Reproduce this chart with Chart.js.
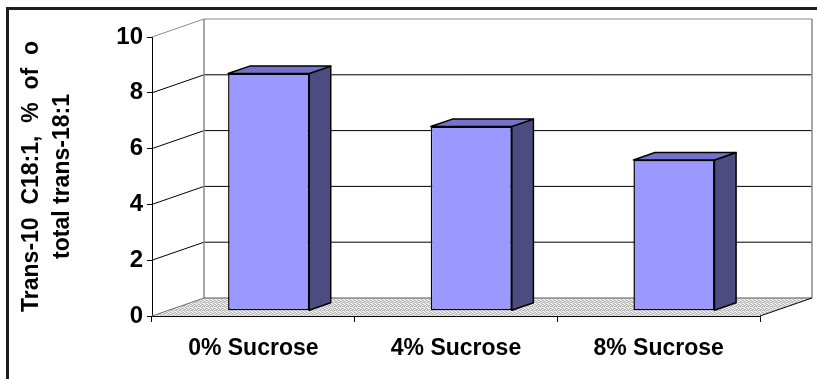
<!DOCTYPE html>
<html>
<head>
<meta charset="utf-8">
<script src="https://cdn.jsdelivr.net/npm/chart.js@4/dist/chart.umd.min.js"></script>
<style>
  html, body { margin: 0; padding: 0; background: #fff; overflow: hidden; }
  canvas { display: block; }
</style>
</head>
<body>
<canvas id="chart" width="817" height="379"></canvas>
<script>
// Data
const categories = ['0% Sucrose', '4% Sucrose', '8% Sucrose'];
const trans10Values = [8.5, 6.6, 5.4];
const yTicks = [0, 2, 4, 6, 8, 10];
const yTitleLines = ['Trans-10  C18:1,  %  of  o', 'total trans-18:1'];

// Oblique projection of the 3-D plot box
const DEPTH = { dx: 52, dy: -18 };
const BAR_FRONT = 0.294;   // depth fraction where each column's front face sits
const BAR_DEPTH = 0.415;   // depth fraction occupied by each column

const FONT = '"Liberation Sans", Arial, sans-serif';
const FRONT_COLOR = '#9999ff';
const TOP_COLOR = '#7373cc';
const SIDE_COLOR = '#4c4c80';

function floorPattern(ctx) {
  const c = document.createElement('canvas');
  c.width = 4; c.height = 4;
  const g = c.getContext('2d');
  g.fillStyle = '#b8b8b8';
  g.fillRect(0, 0, 4, 4);
  g.fillStyle = '#ffffff';
  [[0, 0], [2, 1], [1, 2], [3, 3]].forEach(([x, y]) => g.fillRect(x, y, 1, 1));
  g.fillStyle = '#e0e0e0';
  [[1, 0], [3, 1], [0, 3], [2, 3]].forEach(([x, y]) => g.fillRect(x, y, 1, 1));
  return ctx.createPattern(c, 'repeat');
}

const box3d = {
  id: 'box3d',
  beforeDraw(chart) {
    const ctx = chart.ctx;
    ctx.save();
    ctx.fillStyle = '#ffffff';
    ctx.fillRect(0, 0, chart.width, chart.height);
    // outer chart frame
    ctx.strokeStyle = '#1e1e1e';
    ctx.lineWidth = 3;
    ctx.strokeRect(7.5, 8.5, 1000, 600);
    ctx.restore();
  },
  beforeDatasetsDraw(chart) {
    const { ctx, chartArea: a, scales: { y } } = chart;
    const { dx, dy } = DEPTH;
    const L = a.left, R = a.right;
    const T = y.getPixelForValue(yTicks[yTicks.length - 1]);
    const B = y.getPixelForValue(yTicks[0]);
    ctx.save();
    // floor
    ctx.beginPath();
    ctx.moveTo(L, B); ctx.lineTo(R, B); ctx.lineTo(R + dx, B + dy); ctx.lineTo(L + dx, B + dy);
    ctx.closePath();
    ctx.fillStyle = floorPattern(ctx);
    ctx.fill();
    // gridlines on the side wall and back wall
    ctx.lineWidth = 1;
    yTicks.forEach((v, i) => {
      if (i === 0) return;
      const py = y.getPixelForValue(v);
      ctx.strokeStyle = i === yTicks.length - 1 ? '#8a8a8a' : '#000000';
      ctx.beginPath();
      ctx.moveTo(L, py);
      ctx.lineTo(L + dx, py + dy);
      ctx.lineTo(R + dx, py + dy);
      ctx.stroke();
    });
    // wall edges
    ctx.strokeStyle = '#8a8a8a';
    ctx.lineWidth = 1.5;
    ctx.beginPath();
    ctx.moveTo(L + dx, T + dy); ctx.lineTo(L + dx, B + dy); ctx.lineTo(R + dx, B + dy);
    ctx.moveTo(R + dx, T + dy); ctx.lineTo(R + dx, B + dy);
    ctx.stroke();
    ctx.lineWidth = 1;
    ctx.strokeStyle = '#707070';
    ctx.beginPath();
    ctx.moveTo(L, B); ctx.lineTo(L + dx, B + dy);
    ctx.stroke();
    ctx.strokeStyle = '#000000';
    ctx.beginPath();
    ctx.moveTo(R, B); ctx.lineTo(R + dx, B + dy);
    ctx.stroke();
    ctx.restore();
  },
  beforeDatasetDraw(chart) {
    chart.ctx.save();
    chart.ctx.translate(DEPTH.dx * BAR_FRONT, DEPTH.dy * BAR_FRONT);
  },
  afterDatasetDraw(chart) {
    chart.ctx.restore();
  },
  afterDatasetsDraw(chart) {
    const ctx = chart.ctx;
    const ox = DEPTH.dx * BAR_FRONT, oy = DEPTH.dy * BAR_FRONT;
    const bx = DEPTH.dx * BAR_DEPTH, by = DEPTH.dy * BAR_DEPTH;
    ctx.save();
    ctx.strokeStyle = '#000000';
    ctx.lineWidth = 1.5;
    ctx.lineJoin = 'round';
    chart.getDatasetMeta(0).data.forEach(el => {
      const { x, y, base, width } = el.getProps(['x', 'y', 'base', 'width'], true);
      const xl = x - width / 2 + ox, xr = x + width / 2 + ox;
      const yt = y + oy, yb = base + oy;
      // side face
      ctx.beginPath();
      ctx.moveTo(xr, yt); ctx.lineTo(xr + bx, yt + by); ctx.lineTo(xr + bx, yb + by); ctx.lineTo(xr, yb);
      ctx.closePath();
      ctx.fillStyle = SIDE_COLOR;
      ctx.fill(); ctx.stroke();
      // top face
      ctx.beginPath();
      ctx.moveTo(xl, yt); ctx.lineTo(xl + bx, yt + by); ctx.lineTo(xr + bx, yt + by); ctx.lineTo(xr, yt);
      ctx.closePath();
      ctx.fillStyle = TOP_COLOR;
      ctx.fill(); ctx.stroke();
    });
    ctx.restore();
  }
};

new Chart(document.getElementById('chart'), {
  type: 'bar',
  data: {
    labels: categories,
    datasets: [{
      data: trans10Values,
      backgroundColor: FRONT_COLOR,
      borderColor: '#000000',
      borderWidth: 1.5,
      borderSkipped: false,
      barPercentage: 0.4,
      categoryPercentage: 1
    }]
  },
  options: {
    responsive: false,
    animation: false,
    devicePixelRatio: 1,
    layout: { padding: { left: 0, right: 57, top: 37, bottom: 0 } },
    plugins: { legend: { display: false }, tooltip: { enabled: false } },
    scales: {
      x: {
        grid: { drawOnChartArea: false, offset: true, tickLength: 6, color: '#000000' },
        border: { color: '#000000', width: 1 },
        ticks: { color: '#000000', padding: 13, font: { family: FONT, size: 23, weight: 'bold' } },
        afterFit(scale) { scale.height = 63; }
      },
      y: {
        min: yTicks[0],
        max: yTicks[yTicks.length - 1],
        afterBuildTicks(scale) { scale.ticks = yTicks.map(v => ({ value: v })); },
        grid: { drawOnChartArea: false, tickLength: 5, color: '#000000' },
        border: { color: '#000000', width: 1 },
        ticks: { color: '#000000', padding: 4, font: { family: FONT, size: 24, weight: 'bold' } },
        title: {
          display: true,
          text: yTitleLines,
          color: '#000000',
          font: { family: FONT, size: 23, weight: 'bold', lineHeight: 1.35 },
          padding: { top: 16, bottom: 0 }
        },
        afterFit(scale) { scale.width = 152; }
      }
    }
  },
  plugins: [box3d]
});
</script>
</body>
</html>
